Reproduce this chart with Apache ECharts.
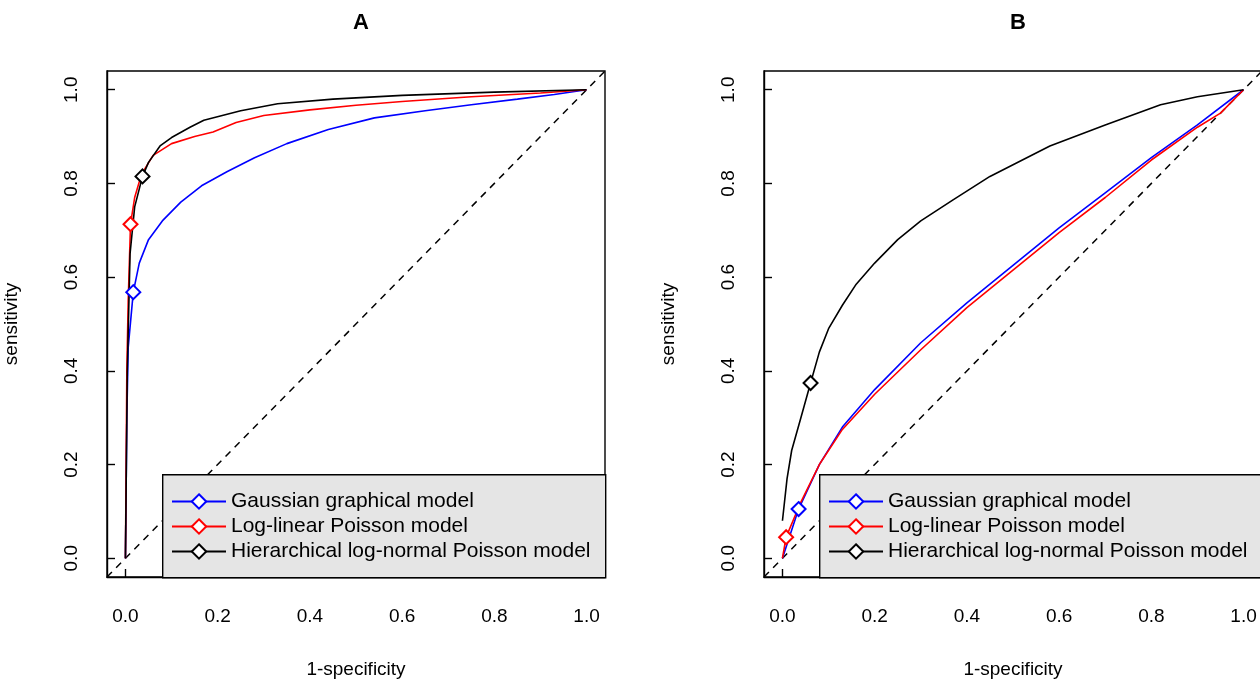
<!DOCTYPE html>
<html>
<head>
<meta charset="utf-8">
<script src="https://cdn.jsdelivr.net/npm/echarts@6/dist/echarts.min.js"></script>
</head>
<body style="margin:0">
<div id="main" style="width:1260px;height:680px"></div>
<script>
var names = ['Gaussian graphical model', 'Log-linear Poisson model', 'Hierarchical log-normal Poisson model'];
var colors = ['#0000ff', '#ff0000', '#000000'];

// panel A curves, [1-specificity, sensitivity]
var gaussA = [[0,0],[0.003,0.3],[0.006,0.45],[0.017,0.568],[0.03,0.63],[0.05,0.68],[0.08,0.72],[0.12,0.76],[0.165,0.795],[0.22,0.825],[0.28,0.855],[0.35,0.885],[0.44,0.915],[0.54,0.94],[0.65,0.955],[0.75,0.968],[0.85,0.98],[0.93,0.99],[1,1]];
var poisA = [[0,0],[0.003,0.4],[0.006,0.55],[0.011,0.713],[0.02,0.77],[0.035,0.82],[0.06,0.86],[0.1,0.885],[0.15,0.9],[0.19,0.91],[0.24,0.93],[0.3,0.945],[0.4,0.957],[0.5,0.967],[0.6,0.975],[0.75,0.985],[0.9,0.993],[1,1]];
var hierA = [[0,0],[0.004,0.4],[0.01,0.65],[0.02,0.75],[0.037,0.815],[0.05,0.845],[0.075,0.88],[0.1,0.898],[0.14,0.92],[0.17,0.935],[0.25,0.955],[0.33,0.97],[0.45,0.98],[0.6,0.988],[0.8,0.995],[1,1]];
var markA = [3, 3, 4];

// panel B curves
var gaussB = [[0,0],[0.035,0.105],[0.08,0.2],[0.13,0.28],[0.2,0.36],[0.3,0.46],[0.4,0.545],[0.5,0.625],[0.6,0.705],[0.7,0.78],[0.8,0.855],[0.9,0.925],[1,1]];
var poisB = [[0,0],[0.008,0.045],[0.04,0.12],[0.08,0.2],[0.13,0.275],[0.2,0.35],[0.3,0.445],[0.4,0.535],[0.5,0.615],[0.6,0.695],[0.7,0.77],[0.8,0.85],[0.9,0.92],[0.95,0.95],[1,1]];
var hierB = [[0,0.08],[0.01,0.17],[0.02,0.23],[0.04,0.3],[0.061,0.374],[0.08,0.44],[0.1,0.49],[0.13,0.54],[0.16,0.585],[0.2,0.63],[0.25,0.68],[0.3,0.72],[0.37,0.765],[0.45,0.815],[0.58,0.88],[0.7,0.925],[0.82,0.968],[0.9,0.985],[1,1]];
var markB = [1, 1, 4];

var ticks = [0, 0.2, 0.4, 0.6, 0.8, 1.0];
var font = 'Liberation Sans, Arial, sans-serif';

function curve(name, data, mark, color, idx) {
    return {
        name: name, type: 'line', xAxisIndex: idx, yAxisIndex: idx,
        symbol: 'emptyDiamond', symbolSize: 14, showSymbol: true,
        data: data.map(function (p, i) {
            return i === mark ? {value: p} : {value: p, symbol: 'none'};
        }),
        lineStyle: {color: color, width: 1.6},
        itemStyle: {color: color, borderWidth: 1.6},
        emphasis: {disabled: true}, animation: false, z: 3
    };
}
function diag(idx) {
    return {type: 'line', xAxisIndex: idx, yAxisIndex: idx, symbol: 'none',
        data: [[-0.04, -0.04], [1.04, 1.04]],
        lineStyle: {color: '#000', width: 1.5, type: [7, 6]}, animation: false, silent: true};
}
function xAx(idx) {
    return {type: 'value', gridIndex: idx, min: -0.04, max: 1.04,
        name: '1-specificity', nameLocation: 'middle', nameGap: 83,
        nameTextStyle: {fontSize: 19, color: '#000', fontFamily: font},
        axisLine: {show: true, onZero: false, lineStyle: {color: '#000', width: 1.4}}, splitLine: {show: false},
        axisTick: {show: true, inside: true, length: 8, lineStyle: {color: '#000', width: 1.4}, customValues: ticks},
        axisLabel: {fontSize: 19, color: '#000', fontFamily: font, margin: 30, customValues: ticks,
            formatter: function (v) { return v.toFixed(1); }}};
}
function yAx(idx) {
    return {type: 'value', gridIndex: idx, min: -0.04, max: 1.04,
        name: 'sensitivity', nameLocation: 'middle', nameGap: 86, nameRotate: 90,
        nameTextStyle: {fontSize: 19, color: '#000', fontFamily: font},
        axisLine: {show: true, onZero: false, lineStyle: {color: '#000', width: 1.4}}, splitLine: {show: false},
        axisTick: {show: true, inside: true, length: 8, lineStyle: {color: '#000', width: 1.4}, customValues: ticks},
        axisLabel: {fontSize: 19, color: '#000', fontFamily: font, margin: 26, rotate: 90, customValues: ticks,
            formatter: function (v) { return v.toFixed(1); }}};
}
function legend(left) {
    return {orient: 'vertical', left: left, top: 486, itemWidth: 54, itemHeight: 18, itemGap: 4,
        data: names, selectedMode: false, z: 200,
        textStyle: {fontSize: 21, color: '#000', fontFamily: font, padding: [0, 0, 0, 0]}};
}
function box(left) {
    return {type: 'rect', left: left, top: 474, z: 100,
        shape: {width: 443, height: 103},
        style: {fill: '#e5e5e5', stroke: '#000', lineWidth: 1.4}};
}

var myChart = echarts.init(document.getElementById('main'));
var gridBase = {top: 71, width: 498, height: 506, show: true, borderColor: '#000', borderWidth: 1.4,
    backgroundColor: 'transparent', outerBoundsMode: 'none', containLabel: false};
var option = {
    backgroundColor: '#fff',
    title: [
        {text: 'A', left: 356, top: 7, textAlign: 'center', textStyle: {fontSize: 22, color: '#000', fontWeight: 'bold', fontFamily: font}},
        {text: 'B', left: 1013, top: 7, textAlign: 'center', textStyle: {fontSize: 22, color: '#000', fontWeight: 'bold', fontFamily: font}}
    ],
    grid: [
        Object.assign({left: 107}, gridBase),
        Object.assign({left: 764}, gridBase)
    ],
    xAxis: [xAx(0), xAx(1)],
    yAxis: [yAx(0), yAx(1)],
    legend: [legend(166), legend(823)],
    graphic: [box(162), box(819)],
    series: [
        diag(0), diag(1),
        curve(names[0], gaussA, markA[0], colors[0], 0),
        curve(names[1], poisA, markA[1], colors[1], 0),
        curve(names[2], hierA, markA[2], colors[2], 0),
        curve(names[0], gaussB, markB[0], colors[0], 1),
        curve(names[1], poisB, markB[1], colors[1], 1),
        curve(names[2], hierB, markB[2], colors[2], 1)
    ]
};
myChart.setOption(option);
</script>
</body>
</html>
